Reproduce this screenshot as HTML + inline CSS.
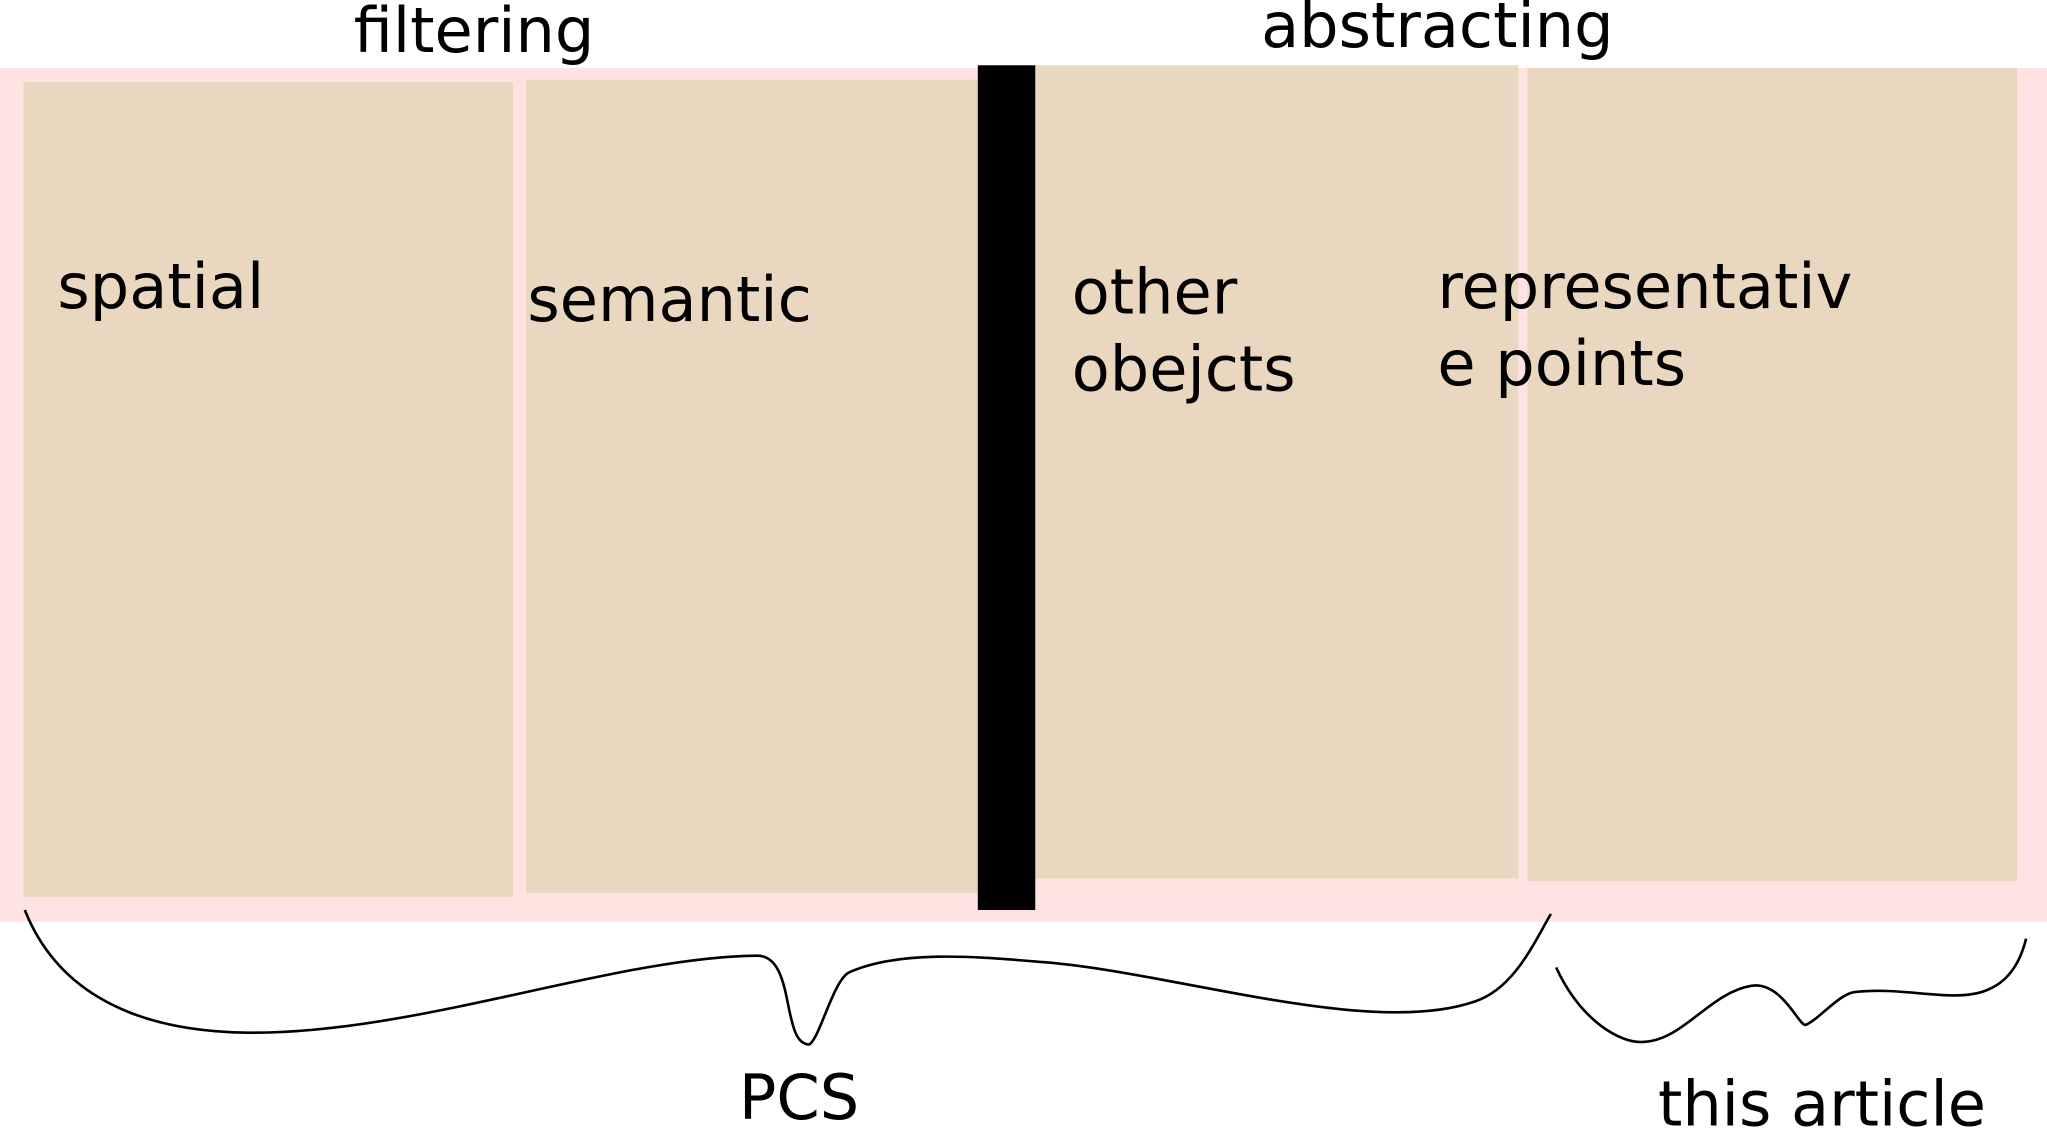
<!DOCTYPE html>
<html><head><style>html,body{margin:0;padding:0;background:#fff}svg{display:block}</style></head>
<body>
<svg width="2047" height="1128" viewBox="0 0 1568 864" preserveAspectRatio="none" xmlns="http://www.w3.org/2000/svg" font-family="DejaVu Sans, Liberation Sans, sans-serif" font-size="47.6" fill="#000">
<rect x="0" y="52" width="1568" height="654" fill="#ffe3e3"/>
<rect x="18" y="63" width="375" height="624" fill="#ead7bf"/>
<rect x="403" y="61" width="347" height="623" fill="#ead7bf"/>
<rect x="793" y="50" width="370" height="623" fill="#ead7bf"/>
<rect x="793" y="50" width="370" height="2" fill="#dfe0c0"/>
<rect x="1170" y="52" width="375" height="623" fill="#ead7bf"/>
<rect x="749" y="50" width="44" height="647" fill="#000"/>
<text x="271" y="40">filtering</text>
<text x="966" y="36">abstracting</text>
<text x="44" y="236">spatial</text>
<text x="404" y="246">semantic</text>
<text x="821" y="240">other</text>
<text x="821" y="299">obejcts</text>
<text x="1101" y="236">representativ</text>
<text x="1101" y="295">e points</text>
<text x="566" y="857">PCS</text>
<text x="1270" y="862">this article</text>
<g fill="none" stroke="#000" stroke-width="2">
<path d="M19,697 C40,750 90,790 190,791 C320,792 470,733 580,732 C610,732 598,800 620,800 C628,795 638,752 650,745 C690,727 750,733 800,737 C900,745 1050,795 1130,767 C1160,757 1175,722 1188,700"/>
<path d="M1192,741 C1210,780 1240,800 1260,798 C1290,796 1310,760 1342,755 C1365,752 1378,786 1383,785 C1392,782 1408,762 1420,760 C1460,755 1500,770 1525,757 C1540,750 1548,735 1552,719"/>
</g>
</svg>
</body></html>
